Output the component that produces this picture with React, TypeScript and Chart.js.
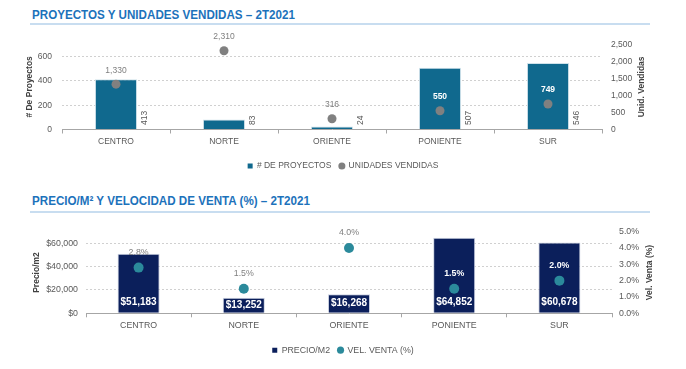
import React, { useEffect, useRef } from 'react';
import { Chart, registerables } from 'chart.js';
Chart.register(...registerables);

const FONT = "'Liberation Sans', Arial, sans-serif";

const categories = ['CENTRO', 'NORTE', 'ORIENTE', 'PONIENTE', 'SUR'];
const proyectos = [413, 83, 24, 507, 546];
const unidades = [1330, 2310, 316, 550, 749];
const precioM2 = [51183, 13252, 16268, 64852, 60678];
const velVenta = [2.8, 1.5, 4.0, 1.5, 2.0];

const proyectosTicks = [0, 200, 400, 600];
const unidadesTicks = [0, 500, 1000, 1500, 2000, 2500];
const precioTicks = [0, 20000, 40000, 60000];
const velTicks = [0, 1, 2, 3, 4, 5];

const TICK_COLOR = '#595959';
const TITLE_COLOR = '#404040';
const LABEL_GRAY = '#7f7f7f';

const fmt = (v: number) => v.toLocaleString('en-US');

function legendOpts(size: number) {
  return {
    position: 'bottom',
    labels: {
      usePointStyle: true,
      boxHeight: 5,
      boxWidth: 5,
      padding: 8,
      color: TICK_COLOR,
      font: { family: FONT, size },
      sort: (a: any, b: any) => a.datasetIndex - b.datasetIndex,
      generateLabels: (chart: any) =>
        (Chart.defaults.plugins.legend.labels as any).generateLabels(chart).map((l: any) => ({
          ...l,
          pointStyle: l.datasetIndex === 0 ? 'rect' : 'circle',
          lineWidth: 0,
          strokeStyle: 'rgba(0,0,0,0)',
        })),
    },
  };
}

function makeLabelPlugin(cfg: {
  barText: (i: number) => string;
  dotText: (i: number) => string;
  rotatedBarLabels: boolean;
  dotOffset: number;
  dotSize: number;
  rightTitle: string;
  rightTitleX: number;
}) {
  return {
    id: 'customLabels',
    afterDatasetsDraw(chart: any) {
      const ctx = chart.ctx as CanvasRenderingContext2D;
      const bars = chart.getDatasetMeta(0).data;
      const dots = chart.getDatasetMeta(1).data;
      ctx.save();
      bars.forEach((bar: any, i: number) => {
        const text = cfg.barText(i);
        if (cfg.rotatedBarLabels) {
          ctx.save();
          ctx.translate(bar.x + bar.width / 2 + 8, bar.base - 4);
          ctx.rotate(-Math.PI / 2);
          ctx.font = `8.5px ${FONT}`;
          ctx.fillStyle = TICK_COLOR;
          ctx.textAlign = 'left';
          ctx.textBaseline = 'middle';
          ctx.fillText(text, 0, 0);
          ctx.restore();
        } else {
          const h = bar.base - bar.y;
          const y = bar.base - Math.min(11, h / 2);
          ctx.font = `bold 10px ${FONT}`;
          ctx.fillStyle = '#ffffff';
          ctx.textAlign = 'center';
          ctx.textBaseline = 'middle';
          ctx.fillText(text, bar.x, y);
        }
      });
      dots.forEach((pt: any, i: number) => {
        const y = pt.y + cfg.dotOffset;
        const bar = bars[i];
        const inside = y > bar.y + 3 && Math.abs(pt.x - bar.x) < bar.width / 2;
        ctx.font = inside ? `bold ${cfg.dotSize}px ${FONT}` : `${cfg.dotSize}px ${FONT}`;
        ctx.fillStyle = inside ? '#ffffff' : LABEL_GRAY;
        ctx.textAlign = 'center';
        ctx.textBaseline = 'middle';
        ctx.fillText(cfg.dotText(i), pt.x, y);
      });
      // right axis title, reading bottom-to-top
      const ca = chart.chartArea;
      ctx.save();
      ctx.translate(cfg.rightTitleX, (ca.top + ca.bottom) / 2);
      ctx.rotate(-Math.PI / 2);
      ctx.font = `bold 8.5px ${FONT}`;
      ctx.fillStyle = TITLE_COLOR;
      ctx.textAlign = 'center';
      ctx.textBaseline = 'middle';
      ctx.fillText(cfg.rightTitle, 0, 0);
      ctx.restore();
      ctx.restore();
    },
  };
}

function xScale(height: number, size: number) {
  return {
    grid: { drawOnChartArea: false, drawTicks: true, tickLength: 4, color: '#a6a6a6', offset: true },
    border: { display: true, color: '#a6a6a6' },
    ticks: { padding: 3, color: TICK_COLOR, font: { family: FONT, size }, maxRotation: 0, autoSkip: false },
    afterFit: (s: any) => {
      s.height = height;
      s.paddingLeft = 0;
      s.paddingRight = 0;
    },
  };
}

function yScale(opts: {
  position: 'left' | 'right';
  max: number;
  ticks: number[];
  width: number;
  padding: number;
  grid: boolean;
  size: number;
  format: (v: number) => string;
  title?: string;
  titlePad?: number;
}) {
  return {
    position: opts.position,
    min: 0,
    max: opts.max,
    afterBuildTicks: (ax: any) => {
      ax.ticks = opts.ticks.map((v) => ({ value: v }));
    },
    ticks: {
      padding: opts.padding,
      color: TICK_COLOR,
      font: { family: FONT, size: opts.size },
      callback: (v: any) => opts.format(Number(v)),
    },
    grid: { display: opts.grid, drawTicks: false, color: '#d0d0d0', lineWidth: 1 },
    border: { display: false, dash: [2, 2] },
    title: opts.title
      ? {
          display: true,
          text: opts.title,
          color: TITLE_COLOR,
          font: { family: FONT, size: 8.5, weight: 'bold' },
          padding: { top: opts.titlePad ?? 0, bottom: 0 },
        }
      : { display: false },
    afterFit: (s: any) => {
      s.width = opts.width;
      s.paddingTop = 0;
      s.paddingBottom = 0;
    },
  };
}

function TopChart() {
  const ref = useRef<HTMLCanvasElement>(null);
  useEffect(() => {
    const chart = new Chart(ref.current!, {
      type: 'bar',
      data: {
        labels: categories,
        datasets: [
          {
            type: 'bar',
            label: '# DE PROYECTOS',
            data: proyectos,
            yAxisID: 'y',
            backgroundColor: '#10698e',
            borderColor: '#cfe2ea',
            borderWidth: 1,
            barPercentage: 0.39,
            categoryPercentage: 1,
            order: 1,
          } as any,
          {
            type: 'line',
            label: 'UNIDADES VENDIDAS',
            data: unidades,
            yAxisID: 'y1',
            showLine: false,
            pointRadius: 4.5,
            pointBorderWidth: 0,
            pointBackgroundColor: '#808080',
            backgroundColor: '#808080',
            borderColor: '#808080',
            order: 0,
            clip: false,
          } as any,
        ],
      },
      options: {
        responsive: false,
        animation: false,
        devicePixelRatio: 1,
        layout: { padding: { top: 14.3, left: 0, right: 0, bottom: 4.75 } },
        plugins: { legend: legendOpts(8.5) as any, tooltip: { enabled: false } },
        scales: {
          x: xScale(24.25, 8.5) as any,
          y: yScale({ position: 'left', max: 700, ticks: proyectosTicks, width: 62, padding: 10, grid: true, size: 8.5, format: fmt, title: '# De Proyectos', titlePad: 24.9 }) as any,
          y1: yScale({ position: 'right', max: 2500, ticks: unidadesTicks, width: 84, padding: 9, grid: false, size: 8.5, format: fmt }) as any,
        },
      },
      plugins: [
        makeLabelPlugin({
          barText: (i) => fmt(proyectos[i]),
          dotText: (i) => fmt(unidades[i]),
          rotatedBarLabels: true,
          dotOffset: -14,
          dotSize: 8.5,
          rightTitle: 'Unid. Vendidas',
          rightTitleX: 642,
        }),
      ],
    });
    return () => chart.destroy();
  }, []);
  return <canvas ref={ref} width={686} height={155} style={{ position: 'absolute', left: 0, top: 30, width: 686, height: 155 }} />;
}

function BottomChart() {
  const ref = useRef<HTMLCanvasElement>(null);
  useEffect(() => {
    const chart = new Chart(ref.current!, {
      type: 'bar',
      data: {
        labels: categories,
        datasets: [
          {
            type: 'bar',
            label: 'PRECIO/M2',
            data: precioM2,
            yAxisID: 'y',
            backgroundColor: '#0b1f5b',
            borderColor: '#cdd3e2',
            borderWidth: 1,
            barPercentage: 0.4,
            categoryPercentage: 1,
            order: 1,
          } as any,
          {
            type: 'line',
            label: 'VEL. VENTA (%)',
            data: velVenta,
            yAxisID: 'y1',
            showLine: false,
            pointRadius: 5,
            pointBorderWidth: 0,
            pointBackgroundColor: '#2b8a9b',
            backgroundColor: '#2b8a9b',
            borderColor: '#2b8a9b',
            order: 0,
            clip: false,
          } as any,
        ],
      },
      options: {
        responsive: false,
        animation: false,
        devicePixelRatio: 1,
        layout: { padding: { top: 16.7, left: 0, right: 0, bottom: 4.45 } },
        plugins: { legend: legendOpts(8.8) as any, tooltip: { enabled: false } },
        scales: {
          x: xScale(24.45, 8.8) as any,
          y: yScale({ position: 'left', max: 70000, ticks: precioTicks, width: 86, padding: 8, grid: true, size: 8.8, format: (v) => '$' + fmt(v), title: 'Precio/m2', titlePad: 31.9 }) as any,
          y1: yScale({ position: 'right', max: 5, ticks: velTicks, width: 74, padding: 7, grid: false, size: 8.8, format: (v) => v.toFixed(1) + '%' }) as any,
        },
      },
      plugins: [
        makeLabelPlugin({
          barText: (i) => '$' + fmt(precioM2[i]),
          dotText: (i) => velVenta[i].toFixed(1) + '%',
          rotatedBarLabels: false,
          dotOffset: -15,
          dotSize: 8.8,
          rightTitle: 'Vel. Venta (%)',
          rightTitleX: 650,
        }),
      ],
    });
    return () => chart.destroy();
  }, []);
  return <canvas ref={ref} width={686} height={154} style={{ position: 'absolute', left: 0, top: 215, width: 686, height: 154 }} />;
}

const titleStyle: React.CSSProperties = {
  position: 'absolute',
  left: 32,
  fontFamily: FONT,
  fontWeight: 'bold',
  fontSize: 12.5,
  lineHeight: '12.5px',
  color: '#1c72bb',
  whiteSpace: 'nowrap',
  transform: 'scaleX(0.93)',
  transformOrigin: 'left center',
};

const ruleStyle: React.CSSProperties = {
  position: 'absolute',
  left: 30,
  width: 620,
  height: 1.5,
  background: '#c8ddf0',
};

export default function App() {
  return (
    <div style={{ position: 'fixed', left: 0, top: 0, width: 686, height: 369, background: '#ffffff', overflow: 'hidden' }}>
      <div style={{ ...titleStyle, top: 9.1 }}>PROYECTOS Y UNIDADES VENDIDAS – 2T2021</div>
      <div style={{ ...ruleStyle, top: 23.3 }} />
      <TopChart />
      <div style={{ ...titleStyle, top: 194.6 }}>PRECIO/M² Y VELOCIDAD DE VENTA (%) – 2T2021</div>
      <div style={{ ...ruleStyle, top: 211 }} />
      <BottomChart />
    </div>
  );
}
